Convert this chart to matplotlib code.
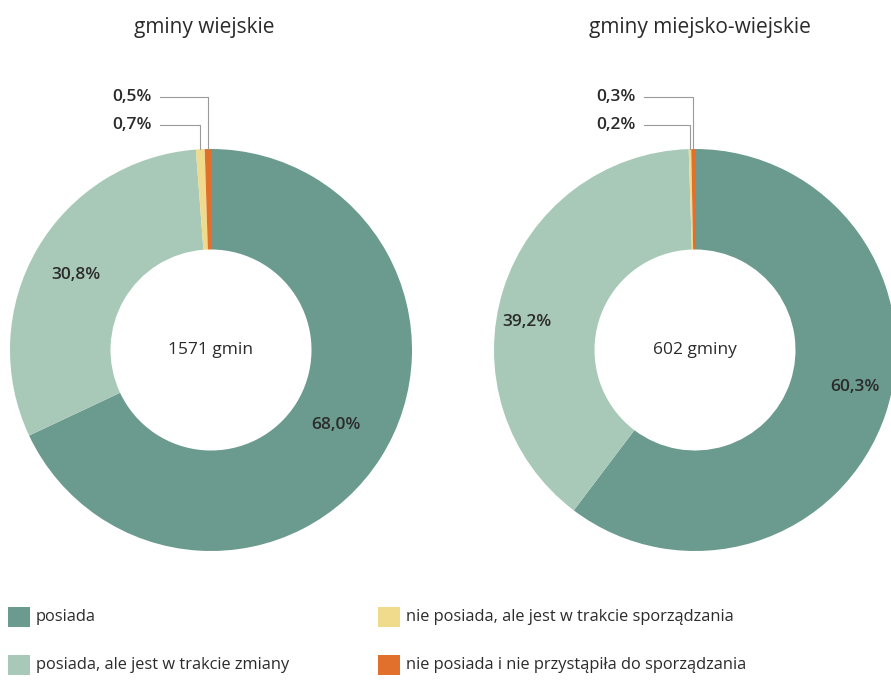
import numpy as np
import matplotlib
matplotlib.use("Agg")
import matplotlib.pyplot as plt
from matplotlib.patches import Rectangle

# data
categories = [
    "posiada",
    "posiada, ale jest w trakcie zmiany",
    "nie posiada, ale jest w trakcie sporządzania",
    "nie posiada i nie przystąpiła do sporządzania",
]
colors = ["#6b9a8e", "#a8c9b8", "#f0da8b", "#e0702c"]

titles = ["gminy wiejskie", "gminy miejsko-wiejskie"]
centre_labels = ["1571 gmin", "602 gminy"]
shares_rural = [68.0, 30.8, 0.7, 0.5]
shares_mixed = [60.3, 39.2, 0.2, 0.3]

plt.rcParams["font.family"] = ["Open Sans", "DejaVu Sans"]
TXT = "#2b2b2b"

fig = plt.figure(figsize=(8.91, 6.85), dpi=100)
W, H = 891, 685
R = 201  # outer radius in px


def donut(cx, cy, shares, title, centre, big_pos, title_x):
    ax = fig.add_axes([(cx - R) / W, (H - cy - R) / H, 2 * R / W, 2 * R / H])
    ax.axis("off")
    ax.pie(shares, colors=colors, radius=1, startangle=90, counterclock=False,
           wedgeprops=dict(width=0.5, edgecolor="none"))
    ax.set_xlim(-1, 1)
    ax.set_ylim(-1, 1)
    ax.text(0, 0, centre, ha="center", va="center", fontsize=12.5, color=TXT)

    def fmt(v):
        return ("%.1f%%" % v).replace(".", ",")

    # two big shares
    for v, (px, py) in zip(shares[:2], big_pos):
        ax.text((px - cx) / R, (cy - py) / R, fmt(v), ha="center", va="center",
                fontsize=12.5, fontweight="semibold", color=TXT)

    # small shares with leader lines
    cum = np.cumsum(shares)
    tot = cum[-1]
    rows = {3: 97, 2: 125}
    for i, py in rows.items():
        mid = (cum[i] - shares[i] / 2) / tot * 2 * np.pi
        xw, yw = np.sin(mid), np.cos(mid)
        ly = (cy - py) / R
        tx = -59 / R
        ax.plot([tx + 0.04, xw, xw], [ly, ly, yw], color="#9a9a9a", lw=0.8,
                clip_on=False)
        ax.text(tx, ly, fmt(shares[i]), ha="right", va="center",
                fontsize=12.5, fontweight="semibold", color=TXT, clip_on=False)

    fig.text(title_x / W, 1 - 28 / H, title, ha="center", va="center",
             fontsize=15, color=TXT)


donut(211, 350, shares_rural, titles[0], centre_labels[0],
      [(336, 425), (76, 275)], 204)
donut(695, 350, shares_mixed, titles[1], centre_labels[1],
      [(855, 387), (527, 322)], 700)

# legend
spots = [(8, 617), (8, 665), (378, 617), (378, 665)]
for cat, col, (lx, ly) in zip(categories, colors, spots):
    fig.patches.append(Rectangle((lx / W, 1 - (ly + 10) / H), 22 / W, 20 / H,
                                 transform=fig.transFigure, facecolor=col,
                                 edgecolor="none"))
    fig.text((lx + 28) / W, 1 - ly / H, cat, ha="left", va="center",
             fontsize=11.8, color=TXT)

fig.savefig("out.png", dpi=100, facecolor="white")
